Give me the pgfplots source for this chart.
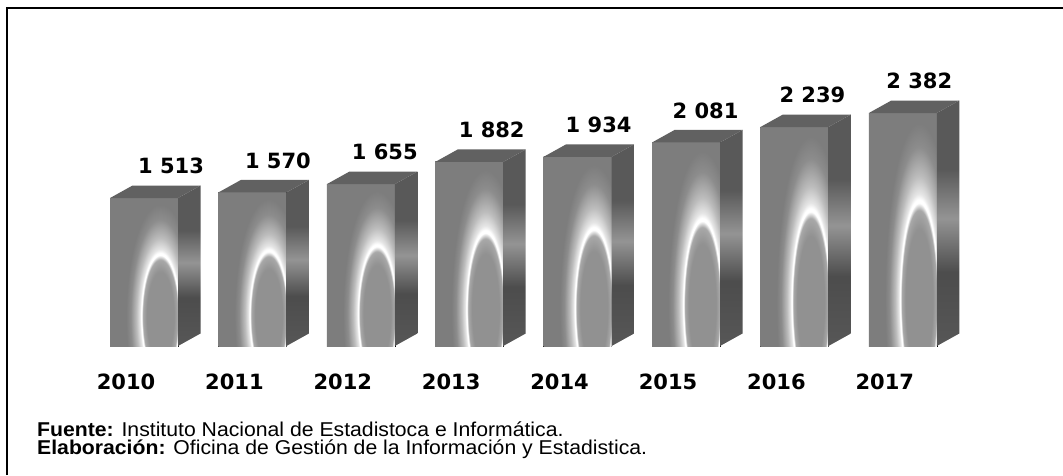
\documentclass[border=0pt]{standalone}
\usepackage{pgfplots}
\pgfplotsset{compat=1.18}
\usepackage{fontspec}
\setmainfont{Liberation Sans}
\newfontfamily\dv{DejaVu Sans}
\newcommand\labfont{\dv\bfseries\fontsize{21}{21}\selectfont}
\definecolor{gA}{gray}{0.49}
\definecolor{gB}{gray}{0.57}
\definecolor{gC}{gray}{0.66}
\definecolor{gD}{gray}{0.90}
\definecolor{gE}{gray}{0.74}
\definecolor{gF}{gray}{0.55}
\definecolor{sA}{gray}{0.34}
\definecolor{sB}{gray}{0.30}
\definecolor{sC}{gray}{0.58}
\definecolor{sD}{gray}{0.35}
\definecolor{topc}{gray}{0.38}
\pgfdeclareradialshading{frontglow}{\pgfpoint{0bp}{0bp}}{%
  color(0bp)=(gB); color(6bp)=(gB); color(7.6bp)=(gC); color(8.2bp)=(white);
  color(8.5bp)=(white); color(9bp)=(gD); color(10.5bp)=(gE); color(13bp)=(gF);
  color(15bp)=(gA); color(100bp)=(gA)}
\pgfdeclareverticalshading{sideband}{100bp}{%
  color(0bp)=(sA); color(25bp)=(sA); color(40bp)=(sB); color(51bp)=(sC);
  color(61bp)=(sD); color(75bp)=(sD); color(100bp)=(sD)}
\pgfdeclareplotmark{empty}{}
\pgfplotstableread{
x y
0 1513
1 1570
2 1655
3 1882
4 1934
5 2081
6 2239
7 2382
}\datatable
\begin{document}
\begin{tikzpicture}
\useasboundingbox (0,0) rectangle (1063pt,475pt);
\fill[white] (0,0) rectangle (1063pt,475pt);
\draw[line width=1.6pt] (7pt,0pt) -- (7pt,467pt) -- (1063pt,467pt);
\begin{axis}[
  at={(89.8pt,129pt)}, anchor=south west,
  x=108.4pt, y=0.0978pt,
  xmin=-0.5, xmax=7.5, ymin=0, ymax=2500,
  axis line style={draw=none}, tick style={draw=none},
  ytick=\empty,
  xtick={0,...,7},
  xticklabels={2010,2011,2012,2013,2014,2015,2016,2017},
  xticklabel style={font=\labfont, anchor=center, xshift=-18pt, yshift=-36pt},
  clip=false,
]
\addplot[scatter, only marks, mark=empty,
  visualization depends on={y \as \rawy},
  visualization depends on={x \as \rawx},
  scatter/@pre marker code/.code={%
    \pgfkeys{/pgf/fpu=true}%
    \pgfmathparse{\rawy*0.0978}%
    \pgfmathfloattofixed{\pgfmathresult}%
    \let\barh\pgfmathresult
    \pgfkeys{/pgf/fpu=false}%
    \begin{scope}
      \clip (-34pt,-\barh pt) rectangle (34pt,0pt);
      \fill[gA, draw=none] (-34pt,-\barh pt) rectangle (34pt,0pt);
      \shade[shading=frontglow, draw=none] (-40.7pt,{-2.06pt*\barh}) rectangle (73.3pt,{0.46pt*\barh});
    \end{scope}
    \shade[shading=sideband, draw=none] (34pt,-\barh pt) -- (56.5pt,-\barh pt+12.5pt) -- (56.5pt,12.5pt) -- (34pt,0pt) -- cycle;
    \fill[topc, draw=none] (-34pt,0pt) -- (-11.5pt,12.5pt) -- (56.5pt,12.5pt) -- (34pt,0pt) -- cycle;
  },
  scatter/@post marker code/.code={},
  nodes near coords*={\pgfmathprintnumber[assume math mode=true, fixed, precision=0, 1000 sep={\ }]{\rawy}},
  every node near coord/.append style={font=\labfont, text=black, anchor=center, yshift=32pt, xshift={27pt-1.5pt*\rawx}},
] table[x=x, y=y] {\datatable};
\end{axis}
\node[anchor=base west, inner sep=0] at (37pt,39pt) {\scalebox{1.06}[1]{\fontsize{20}{20}\selectfont\textbf{Fuente:} Instituto Nacional de Estadistoca e Informática.}};
\node[anchor=base west, inner sep=0] at (37pt,21pt) {\scalebox{1.06}[1]{\fontsize{20}{20}\selectfont\textbf{Elaboración:} Oficina de Gestión de la Información y Estadistica.}};
\end{tikzpicture}
\end{document}
